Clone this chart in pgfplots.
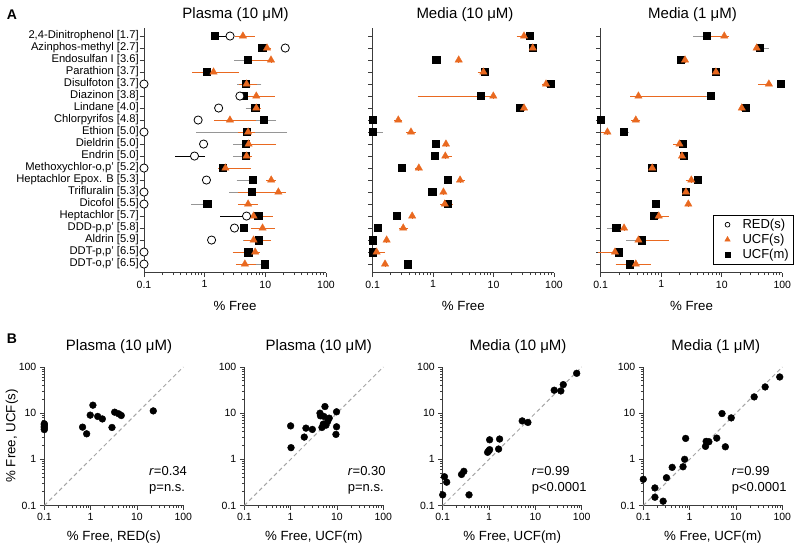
\documentclass[border=0pt]{standalone}
\usepackage{pgfplots}
\pgfplotsset{compat=1.18}
\usepackage{fontspec}
\setmainfont{Liberation Sans}
\definecolor{org}{RGB}{233,105,32}
\definecolor{axc}{RGB}{60,60,60}
\definecolor{errg}{RGB}{150,150,150}
\begin{document}
\begin{tikzpicture}
\useasboundingbox (0pt,0pt) rectangle (800pt,548pt);
%================ Panel A1: Plasma (10 uM)
\begin{axis}[at={(144pt,275.3pt)}, anchor=south west,
  scale only axis, clip=false, axis x line*=bottom, axis y line*=left,
  xmode=log, xmin=0.1, xmax=100,
  xtick={0.1,1,10,100}, xticklabels={0.1,1,10,100},
  minor xtick={0.2,0.3,0.4,0.5,0.6,0.7,0.8,0.9,2,3,4,5,6,7,8,9,20,30,40,50,60,70,80,90},
  tick align=outside, major tick length=4.5pt, minor tick length=2.5pt,
  axis line style={axc, line width=0.9pt}, tick style={axc, line width=0.8pt},
  xticklabel style={font=\fontsize{10.5}{12}\selectfont},
  xlabel={\% Free}, xlabel style={font=\fontsize{13.3}{15}\selectfont, at={(axis description cs:0.5,0)}, anchor=center, yshift=-33.3pt},
  width=182pt, height=244.7pt, ymin=-0.72, ymax=19.67, ytick={0,...,19},
  yticklabels={{DDT-o,p' [6.5]},{DDT-p,p' [6.5]},{Aldrin [5.9]},{DDD-p,p' [5.8]},{Heptachlor [5.7]},{Dicofol [5.5]},{Trifluralin [5.3]},{Heptachlor Epox. B [5.3]},{Methoxychlor-o,p' [5.2]},{Endrin [5.0]},{Dieldrin [5.0]},{Ethion [5.0]},{Chlorpyrifos [4.8]},{Lindane [4.0]},{Diazinon [3.8]},{Disulfoton [3.7]},{Parathion [3.7]},{Endosulfan I [3.6]},{Azinphos-methyl [2.7]},{2,4-Dinitrophenol [1.7]}},
  yticklabel style={font=\fontsize{11.2}{12}\selectfont, inner xsep=0.6pt}]
\addplot[only marks, mark=square*, mark size=3.6pt, black, mark options={fill=black, draw=black, line width=0.3pt},
  error bars/.cd, x dir=both, x explicit, error bar style={errg, line width=0.8pt},
  error mark options={errg, line width=0.8pt, mark size=2.6pt}]
 table[x=x, y=y, x error plus expr=\thisrow{hi}-\thisrow{x}, x error minus expr=\thisrow{x}-\thisrow{lo}] {
y x lo hi
19 1.44 1.44 1.44
18 8.88 8.88 8.88
17 5.10 3.38 5.10
16 1.07 0.84 1.2
15 4.79 3.81 7.83
14 4.3 4.3 4.3
13 6.8 5.2 7.2
12 9.3 6.3 13.6
11 4.9 0.8 20.7
10 4.7 3.28 4.7
9 4.7 3.28 4.7
8 2.0 2.0 2.0
7 6.1 3.7 6.1
6 6.0 2.8 11.3
5 1.1 0.66 1.1
4 7.6 7.6 7.6
3 4.4 4.4 4.4
2 7.8 4.8 7.8
1 5.2 4.5 5.2
0 9.8 7.8 9.8
};
\addplot[only marks, mark=triangle*, mark size=4.3pt, org, mark options={fill=org, draw=org, line width=0.3pt},
  error bars/.cd, x dir=both, x explicit, error bar style={org, line width=0.8pt},
  error mark options={org, line width=0.8pt, mark size=2.6pt}]
 table[x=x, y=y, x error plus expr=\thisrow{hi}-\thisrow{x}, x error minus expr=\thisrow{x}-\thisrow{lo}] {
y x lo hi
19 4.27 3.44 6.08
18 10.66 9.8 11.3
17 12.4 5.5 12.4
16 1.40 0.69 3.28
15 4.9 4.1 6.6
14 7.1 5.57 12.9
13 7.1 6.5 7.6
12 2.61 1.57 6.3
11 5.2 3.9 6.1
10 5.3 4.7 13.6
9 4.9 4.5 5.5
8 2.2 1.84 5.2
7 12.5 11.5 13.5
6 16.4 3.9 19.8
5 5.2 3.9 6.8
4 6.4 5.57 12.0
3 9.0 6.4 12.9
2 6.4 5.0 11.3
1 6.8 3.2 7.3
0 4.6 3.6 6.3
};
\addplot[only marks, mark=*, mark size=4.1pt, black, mark options={fill=white, draw=black, line width=0.8pt},
  error bars/.cd, x dir=both, x explicit, error bar style={black, line width=0.8pt},
  error mark options={black, line width=0.8pt, mark size=2.6pt}]
 table[x=x, y=y, x error plus expr=\thisrow{hi}-\thisrow{x}, x error minus expr=\thisrow{x}-\thisrow{lo}] {
y x lo hi
19 2.62 1.75 2.62
18 21.3 21.3 21.3
15 0.1 0.1 0.1
14 3.81 3.81 3.81
13 1.70 1.70 1.70
12 0.78 0.78 0.78
11 0.1 0.1 0.1
10 0.96 0.96 0.96
9 0.68 0.36 0.92
8 0.1 0.1 0.1
7 1.07 1.07 1.07
6 0.1 0.1 0.1
5 0.1 0.1 0.1
4 4.9 2.0 4.9
3 3.1 3.1 3.1
2 1.3 1.3 1.3
1 0.1 0.1 0.1
0 0.1 0.1 0.1
};
\end{axis}
%================ Panel A2: Media (10 uM)
\begin{axis}[at={(372.7pt,275.3pt)}, anchor=south west,
  scale only axis, clip=false, axis x line*=bottom, axis y line*=left,
  xmode=log, xmin=0.1, xmax=100,
  xtick={0.1,1,10,100}, xticklabels={0.1,1,10,100},
  minor xtick={0.2,0.3,0.4,0.5,0.6,0.7,0.8,0.9,2,3,4,5,6,7,8,9,20,30,40,50,60,70,80,90},
  tick align=outside, major tick length=4.5pt, minor tick length=2.5pt,
  axis line style={axc, line width=0.9pt}, tick style={axc, line width=0.8pt},
  xticklabel style={font=\fontsize{10.5}{12}\selectfont},
  xlabel={\% Free}, xlabel style={font=\fontsize{13.3}{15}\selectfont, at={(axis description cs:0.5,0)}, anchor=center, yshift=-33.3pt},
  width=181.3pt, height=244.7pt, ymin=-0.72, ymax=19.67, ytick={0,...,19}, yticklabels={}]
\addplot[only marks, mark=square*, mark size=3.6pt, black, mark options={fill=black, draw=black, line width=0.3pt},
  error bars/.cd, x dir=both, x explicit, error bar style={errg, line width=0.8pt},
  error mark options={errg, line width=0.8pt, mark size=2.6pt}]
 table[x=x, y=y, x error plus expr=\thisrow{hi}-\thisrow{x}, x error minus expr=\thisrow{x}-\thisrow{lo}] {
y x lo hi
19 40.1 40.1 40.1
18 44.5 44.5 44.5
17 1.12 1.12 1.12
16 7.2 7.2 7.2
15 87 87 87
14 6.1 6.1 6.1
13 26.7 26.7 26.7
12 0.1 0.1 0.1
11 0.1 0.1 0.132
10 1.09 1.09 1.09
9 1.06 1.06 1.06
8 0.30 0.30 0.30
7 1.72 1.72 1.85
6 0.96 0.96 0.96
5 1.72 1.72 1.9
4 0.25 0.25 0.25
3 0.12 0.12 0.12
2 0.1 0.1 0.1
1 0.1 0.1 0.1
0 0.38 0.38 0.38
};
\addplot[only marks, mark=triangle*, mark size=4.3pt, org, mark options={fill=org, draw=org, line width=0.3pt},
  error bars/.cd, x dir=both, x explicit, error bar style={org, line width=0.8pt},
  error mark options={org, line width=0.8pt, mark size=2.6pt}]
 table[x=x, y=y, x error plus expr=\thisrow{hi}-\thisrow{x}, x error minus expr=\thisrow{x}-\thisrow{lo}] {
y x lo hi
19 31.9 26.7 34
18 44.5 44.5 44.5
17 2.65 2.65 2.65
16 6.8 6.0 6.8
15 73.8 70 73.8
14 9.9 0.61 9.9
13 31.9 31.9 31.9
12 0.265 0.25 0.28
11 0.43 0.39 0.47
10 1.63 1.63 1.63
9 1.59 1.59 1.85
8 0.58 0.55 0.58
7 2.79 2.79 3.0
6 1.48 1.48 1.48
5 1.56 1.45 1.9
4 0.45 0.45 0.45
3 0.32 0.30 0.35
2 0.17 0.17 0.17
1 0.116 0.116 0.145
0 0.16 0.16 0.16
};
\end{axis}
%================ Panel A3: Media (1 uM)
\begin{axis}[at={(600.7pt,275.3pt)}, anchor=south west,
  scale only axis, clip=false, axis x line*=bottom, axis y line*=left,
  xmode=log, xmin=0.1, xmax=100,
  xtick={0.1,1,10,100}, xticklabels={0.1,1,10,100},
  minor xtick={0.2,0.3,0.4,0.5,0.6,0.7,0.8,0.9,2,3,4,5,6,7,8,9,20,30,40,50,60,70,80,90},
  tick align=outside, major tick length=4.5pt, minor tick length=2.5pt,
  axis line style={axc, line width=0.9pt}, tick style={axc, line width=0.8pt},
  xticklabel style={font=\fontsize{10.5}{12}\selectfont},
  xlabel={\% Free}, xlabel style={font=\fontsize{13.3}{15}\selectfont, at={(axis description cs:0.5,0)}, anchor=center, yshift=-33.3pt},
  width=181.6pt, height=244.7pt, ymin=-0.72, ymax=19.67, ytick={0,...,19}, yticklabels={},
  legend style={at={(1.0645,0.236)}, anchor=north east, draw=black, line width=0.6pt,
    font=\fontsize{13}{14}\selectfont, inner xsep=3pt, inner ysep=2pt, row sep=0pt, column sep=2pt},
  legend image code/.code={\path[draw=none, fill=none] (0pt,0pt) -- (22pt,0pt); \draw[#1] plot coordinates {(11pt,0pt)};},
  legend cell align=left]
\addlegendimage{only marks, mark=*, mark size=2.4pt, mark options={fill=white, draw=black, line width=0.7pt}}
\addlegendentry{RED(s)}
\addlegendimage{only marks, mark=triangle*, mark size=3pt, mark options={fill=org, draw=org}}
\addlegendentry{UCF(s)}
\addlegendimage{only marks, mark=square*, mark size=2.4pt, mark options={fill=black, draw=black}}
\addlegendentry{UCF(m)}
\addplot[forget plot, only marks, mark=square*, mark size=3.6pt, black, mark options={fill=black, draw=black, line width=0.3pt},
  error bars/.cd, x dir=both, x explicit, error bar style={errg, line width=0.8pt},
  error mark options={errg, line width=0.8pt, mark size=2.6pt}]
 table[x=x, y=y, x error plus expr=\thisrow{hi}-\thisrow{x}, x error minus expr=\thisrow{x}-\thisrow{lo}] {
y x lo hi
19 5.6 3.75 5.6
18 41.7 41.7 53.8
17 2.1 2.1 2.1
16 8.0 8.0 8.0
15 94 94 94
14 6.6 4.95 6.6
13 25.1 25.1 25.1
12 0.1 0.1 0.1
11 0.243 0.243 0.27
10 2.26 2.26 2.45
9 2.33 2.33 2.5
8 0.71 0.71 0.71
7 4.0 4.0 4.0
6 2.56 2.56 2.56
5 0.80 0.80 0.80
4 0.74 0.74 0.74
3 0.18 0.139 0.18
2 0.47 0.29 0.47
1 0.195 0.195 0.195
0 0.30 0.26 0.30
};
\addplot[forget plot, only marks, mark=triangle*, mark size=4.3pt, org, mark options={fill=org, draw=org, line width=0.3pt},
  error bars/.cd, x dir=both, x explicit, error bar style={org, line width=0.8pt},
  error mark options={org, line width=0.8pt, mark size=2.6pt}]
 table[x=x, y=y, x error plus expr=\thisrow{hi}-\thisrow{x}, x error minus expr=\thisrow{x}-\thisrow{lo}] {
y x lo hi
19 11.0 7.1 12
18 37.7 37.7 37.7
17 2.47 2.47 2.47
16 8.0 8.0 8.0
15 60 44 62
14 0.42 0.34 4.95
13 21.4 21.4 21.4
12 0.38 0.35 0.41
11 0.129 0.11 0.129
10 2.0 1.75 2.0
9 2.2 2.2 2.2
8 0.71 0.71 0.71
7 3.14 2.8 3.14
6 2.56 2.56 2.56
5 2.8 2.8 2.8
4 0.91 0.91 1.2
3 0.243 0.243 0.243
2 0.42 0.42 1.2
1 0.172 0.1 0.172
0 0.38 0.195 0.61
};
\end{axis}
%================ Panel B1
\begin{axis}[at={(44.3pt,42.5pt)}, anchor=south west,
  scale only axis, clip=false, axis x line*=bottom, axis y line*=left,
  xmode=log, ymode=log, xmin=0.1, xmax=100, ymin=0.1, ymax=100,
  xtick={0.1,1,10,100}, xticklabels={0.1,1,10,100},
  ytick={0.1,1,10,100}, yticklabels={0.1,1,10,100},
  minor xtick={0.2,0.3,0.4,0.5,0.6,0.7,0.8,0.9,2,3,4,5,6,7,8,9,20,30,40,50,60,70,80,90},
  minor ytick={0.2,0.3,0.4,0.5,0.6,0.7,0.8,0.9,2,3,4,5,6,7,8,9,20,30,40,50,60,70,80,90},
  tick align=outside, major tick length=4.5pt, minor tick length=2.5pt,
  axis line style={axc, line width=0.9pt}, tick style={axc, line width=0.8pt},
  ticklabel style={font=\fontsize{10.5}{12}\selectfont},
  width=139pt, height=138.5pt,
  xlabel={\% Free, RED(s)}, xlabel style={font=\fontsize{13.3}{15}\selectfont, at={(axis description cs:0.5,0)}, anchor=center, yshift=-32pt}]
\addplot[gray!70, line width=1pt, dash pattern=on 4pt off 3pt] coordinates {(0.1,0.1) (100,100)};
\addplot[only marks, mark=*, mark size=3.4pt, black] coordinates {(0.1,4.4) (0.1,4.8) (0.1,5.2) (0.1,5.6) (0.1,5.9) (0.67,4.98) (0.82,3.57) (0.98,9.06) (1.12,14.9) (1.42,8.5) (1.79,7.5) (2.89,4.9) (3.30,10.5) (4.02,9.7) (4.59,8.9) (22.5,11.2)};
\end{axis}
%================ Panel B2
\begin{axis}[at={(244.3pt,42.5pt)}, anchor=south west,
  scale only axis, clip=false, axis x line*=bottom, axis y line*=left,
  xmode=log, ymode=log, xmin=0.1, xmax=100, ymin=0.1, ymax=100,
  xtick={0.1,1,10,100}, xticklabels={0.1,1,10,100},
  ytick={0.1,1,10,100}, yticklabels={0.1,1,10,100},
  minor xtick={0.2,0.3,0.4,0.5,0.6,0.7,0.8,0.9,2,3,4,5,6,7,8,9,20,30,40,50,60,70,80,90},
  minor ytick={0.2,0.3,0.4,0.5,0.6,0.7,0.8,0.9,2,3,4,5,6,7,8,9,20,30,40,50,60,70,80,90},
  tick align=outside, major tick length=4.5pt, minor tick length=2.5pt,
  axis line style={axc, line width=0.9pt}, tick style={axc, line width=0.8pt},
  ticklabel style={font=\fontsize{10.5}{12}\selectfont},
  width=139pt, height=138.5pt,
  xlabel={\% Free, UCF(m)}, xlabel style={font=\fontsize{13.3}{15}\selectfont, at={(axis description cs:0.5,0)}, anchor=center, yshift=-32pt}]
\addplot[gray!70, line width=1pt, dash pattern=on 4pt off 3pt] coordinates {(0.1,0.1) (100,100)};
\addplot[only marks, mark=*, mark size=3.4pt, black] coordinates {(1.0,5.3) (1.02,1.79) (1.97,3.03) (2.14,4.74) (2.94,4.44) (4.3,10) (4.4,8.75) (4.74,4.9) (5.5,13.9) (5.2,8.5) (5.07,5.8) (5.8,5.5) (6.8,7.8) (6.3,6.6) (9.8,10.7) (9.8,5.07) (9.5,3.47)};
\end{axis}
%================ Panel B3
\begin{axis}[at={(442.7pt,42.5pt)}, anchor=south west,
  scale only axis, clip=false, axis x line*=bottom, axis y line*=left,
  xmode=log, ymode=log, xmin=0.1, xmax=100, ymin=0.1, ymax=100,
  xtick={0.1,1,10,100}, xticklabels={0.1,1,10,100},
  ytick={0.1,1,10,100}, yticklabels={0.1,1,10,100},
  minor xtick={0.2,0.3,0.4,0.5,0.6,0.7,0.8,0.9,2,3,4,5,6,7,8,9,20,30,40,50,60,70,80,90},
  minor ytick={0.2,0.3,0.4,0.5,0.6,0.7,0.8,0.9,2,3,4,5,6,7,8,9,20,30,40,50,60,70,80,90},
  tick align=outside, major tick length=4.5pt, minor tick length=2.5pt,
  axis line style={axc, line width=0.9pt}, tick style={axc, line width=0.8pt},
  ticklabel style={font=\fontsize{10.5}{12}\selectfont},
  width=139pt, height=138.5pt,
  xlabel={\% Free, UCF(m)}, xlabel style={font=\fontsize{13.3}{15}\selectfont, at={(axis description cs:0.5,0)}, anchor=center, yshift=-32pt}]
\addplot[gray!70, line width=1pt, dash pattern=on 4pt off 3pt] coordinates {(0.1,0.1) (100,100)};
\addplot[only marks, mark=*, mark size=3.4pt, black] coordinates {(78,73) (40,41.5) (35.5,30.3) (25.5,31.4) (5.2,6.8) (6.9,6.3) (1.03,2.65) (1.69,2.75) (0.93,1.42) (0.98,1.52) (1.03,1.62) (1.61,1.67) (0.109,0.42) (0.122,0.32) (0.255,0.47) (0.286,0.55) (0.1,0.17) (0.37,0.17)};
\end{axis}
%================ Panel B4
\begin{axis}[at={(643.3pt,42.5pt)}, anchor=south west,
  scale only axis, clip=false, axis x line*=bottom, axis y line*=left,
  xmode=log, ymode=log, xmin=0.1, xmax=100, ymin=0.1, ymax=100,
  xtick={0.1,1,10,100}, xticklabels={0.1,1,10,100},
  ytick={0.1,1,10,100}, yticklabels={0.1,1,10,100},
  minor xtick={0.2,0.3,0.4,0.5,0.6,0.7,0.8,0.9,2,3,4,5,6,7,8,9,20,30,40,50,60,70,80,90},
  minor ytick={0.2,0.3,0.4,0.5,0.6,0.7,0.8,0.9,2,3,4,5,6,7,8,9,20,30,40,50,60,70,80,90},
  tick align=outside, major tick length=4.5pt, minor tick length=2.5pt,
  axis line style={axc, line width=0.9pt}, tick style={axc, line width=0.8pt},
  ticklabel style={font=\fontsize{10.5}{12}\selectfont},
  width=139pt, height=138.5pt,
  xlabel={\% Free, UCF(m)}, xlabel style={font=\fontsize{13.3}{15}\selectfont, at={(axis description cs:0.5,0)}, anchor=center, yshift=-32pt}]
\addplot[gray!70, line width=1pt, dash pattern=on 4pt off 3pt] coordinates {(0.1,0.1) (100,100)};
\addplot[only marks, mark=*, mark size=3.4pt, black] coordinates {(0.1,0.37) (0.178,0.24) (0.178,0.151) (0.268,0.124) (0.316,0.40) (0.42,0.67) (0.72,0.69) (0.78,1.0) (0.82,2.84) (2.2,1.91) (2.27,2.45) (2.6,2.4) (3.85,2.88) (5.0,9.8) (5.9,1.87) (7.9,7.9) (88,60.8) (42.6,37) (24.7,22.5)};
\end{axis}
%================ texts
\node[font=\fontsize{14}{16}\selectfont\bfseries] at (12pt,533pt) {A};
\node[font=\fontsize{14}{16}\selectfont\bfseries] at (12pt,209pt) {B};
\node[font=\fontsize{15}{17}\selectfont] at (235.5pt,533pt) {Plasma (10 μM)};
\node[font=\fontsize{15}{17}\selectfont] at (465pt,533pt) {Media (10 μM)};
\node[font=\fontsize{15}{17}\selectfont] at (692.5pt,533pt) {Media (1 μM)};
\node[font=\fontsize{15}{17}\selectfont] at (119pt,201.3pt) {Plasma (10 μM)};
\node[font=\fontsize{15}{17}\selectfont] at (318.8pt,201.3pt) {Plasma (10 μM)};
\node[font=\fontsize{15}{17}\selectfont] at (518pt,201.3pt) {Media (10 μM)};
\node[font=\fontsize{15}{17}\selectfont] at (715.8pt,201.3pt) {Media (1 μM)};
\node[font=\fontsize{13.3}{15}\selectfont, rotate=90] at (12pt,112pt) {\% Free, UCF(s)};
\node[font=\fontsize{13}{15.7}\selectfont, align=left, anchor=west, inner sep=0pt] at (149pt,68pt) {\textit{r}=0.34\\p=n.s.};
\node[font=\fontsize{13}{15.7}\selectfont, align=left, anchor=west, inner sep=0pt] at (347.7pt,68pt) {\textit{r}=0.30\\p=n.s.};
\node[font=\fontsize{13}{15.7}\selectfont, align=left, anchor=west, inner sep=0pt] at (531.7pt,68pt) {\textit{r}=0.99\\p<0.0001};
\node[font=\fontsize{13}{15.7}\selectfont, align=left, anchor=west, inner sep=0pt] at (731.7pt,68pt) {\textit{r}=0.99\\p<0.0001};
\end{tikzpicture}
\end{document}
